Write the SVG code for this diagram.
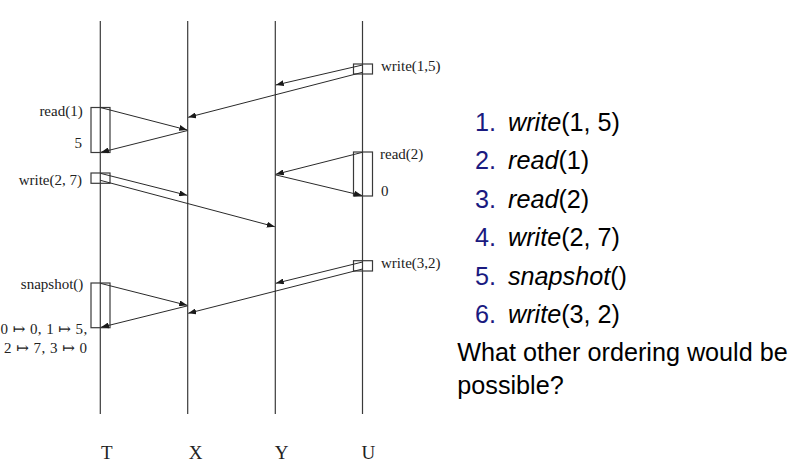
<svg xmlns="http://www.w3.org/2000/svg" width="794" height="471" viewBox="0 0 794 471">
<style>
.life{stroke:#3a3a3a;stroke-width:1.2;fill:none}
.box{stroke:#3a3a3a;stroke-width:1.2;fill:none}
.msg{stroke:#2a2a2a;stroke-width:1;fill:none;marker-end:url(#ah)}
.lbl{font-family:"Liberation Serif","DejaVu Serif",serif;font-size:15px;fill:#222}
.end{text-anchor:end}
.proc{font-family:"Liberation Serif","DejaVu Serif",serif;font-size:19px;fill:#222;text-anchor:middle}
.li{font-family:"Liberation Sans",Arial,sans-serif;font-size:25.2px;fill:#000}
.num{fill:#1a1a80}
.it{font-style:italic}
</style>
<defs>
<marker id="ah" viewBox="0 0 8 6" refX="8" refY="3" markerWidth="8" markerHeight="6" orient="auto" markerUnits="userSpaceOnUse">
<path d="M0,0 L8,3 L0,6 z" fill="#1a1a1a"/>
</marker>
</defs>
<rect width="794" height="471" fill="#fff"/>
<g id="lifelines">
<line class="life" x1="100.3" y1="21" x2="100.3" y2="414"/>
<line class="life" x1="187.7" y1="21" x2="187.7" y2="414"/>
<line class="life" x1="275.3" y1="21" x2="275.3" y2="414"/>
<line class="life" x1="362.5" y1="21" x2="362.5" y2="414"/>
</g>
<g id="proc-labels">
<text class="proc" x="106.7" y="459">T</text>
<text class="proc" x="195.7" y="459">X</text>
<text class="proc" x="281.7" y="459">Y</text>
<text class="proc" x="368.3" y="459">U</text>
</g>
<g id="op-write15">
<rect class="box" x="353.5" y="64" width="19" height="10"/>
<text class="lbl" x="381" y="71">write(1,5)</text>
</g>
<g id="op-read1">
<rect class="box" x="91" y="107.5" width="19" height="45"/>
<text class="lbl end" x="82.7" y="116">read(1)</text>
<text class="lbl end" x="82" y="148">5</text>
</g>
<g id="op-read2">
<rect class="box" x="353.5" y="152" width="19" height="44"/>
<text class="lbl" x="380" y="159">read(2)</text>
<text class="lbl" x="381" y="196">0</text>
</g>
<g id="op-write27">
<rect class="box" x="91" y="173" width="19" height="10.3"/>
<text class="lbl end" x="82" y="184.5">write(2, 7)</text>
</g>
<g id="op-write32">
<rect class="box" x="353.5" y="260.7" width="19" height="10.3"/>
<text class="lbl" x="381" y="268">write(3,2)</text>
</g>
<g id="op-snapshot">
<rect class="box" x="91" y="283" width="19" height="44.7"/>
<text class="lbl end" x="83.3" y="289">snapshot()</text>
<text class="lbl" x="0.5" y="334" textLength="86.8" lengthAdjust="spacing">0 ↦ 0, 1 ↦ 5,</text>
<text class="lbl" x="4" y="353" textLength="83" lengthAdjust="spacing">2 ↦ 7, 3 ↦ 0</text>
</g>
<g id="connectors">
<line class="msg" x1="362.5" y1="65" x2="275.8" y2="85"/>
<line class="msg" x1="362.5" y1="72.3" x2="188.2" y2="117.3"/>
<line class="msg" x1="100.3" y1="107.5" x2="187.2" y2="130"/>
<line class="msg" x1="187.7" y1="130.5" x2="101" y2="152.3"/>
<line class="msg" x1="362.5" y1="152.3" x2="275.8" y2="174.3"/>
<line class="msg" x1="275.3" y1="174.8" x2="362" y2="195.5"/>
<line class="msg" x1="100.3" y1="173.3" x2="187.2" y2="195.3"/>
<line class="msg" x1="100.3" y1="180.3" x2="274.8" y2="226.7"/>
<line class="msg" x1="362.5" y1="262" x2="275.8" y2="283.3"/>
<line class="msg" x1="362.5" y1="269" x2="188.2" y2="313.3"/>
<line class="msg" x1="100.3" y1="283.3" x2="187.2" y2="305.3"/>
<line class="msg" x1="187.7" y1="305.8" x2="101" y2="327.3"/>
</g>
<g id="list">
<text class="li" y="131"><tspan class="num" x="475">1.</tspan><tspan x="508" class="it">write</tspan><tspan>(1, 5)</tspan></text>
<text class="li" y="169.4"><tspan class="num" x="475">2.</tspan><tspan x="508" class="it">read</tspan><tspan>(1)</tspan></text>
<text class="li" y="207.8"><tspan class="num" x="475">3.</tspan><tspan x="508" class="it">read</tspan><tspan>(2)</tspan></text>
<text class="li" y="246.2"><tspan class="num" x="475">4.</tspan><tspan x="508" class="it">write</tspan><tspan>(2, 7)</tspan></text>
<text class="li" y="284.6"><tspan class="num" x="475">5.</tspan><tspan x="508" class="it">snapshot</tspan><tspan>()</tspan></text>
<text class="li" y="323"><tspan class="num" x="475">6.</tspan><tspan x="508" class="it">write</tspan><tspan>(3, 2)</tspan></text>
<text class="li" x="457.3" y="361.4">What other ordering would be</text>
<text class="li" x="457.3" y="393.5">possible?</text>
</g>
</svg>
